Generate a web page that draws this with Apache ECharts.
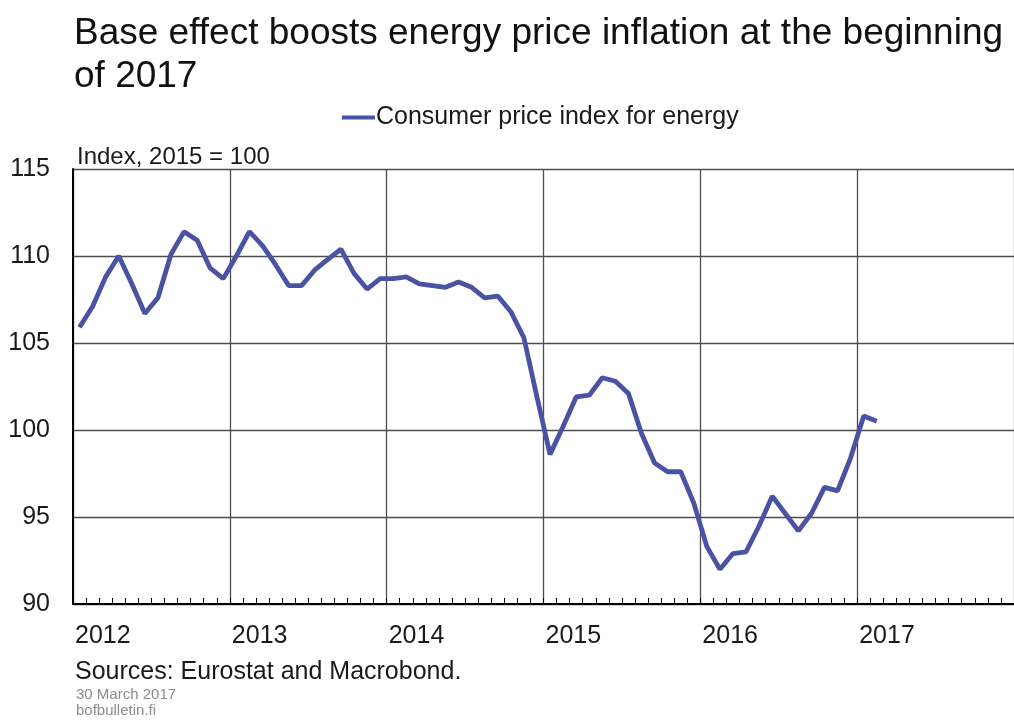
<!DOCTYPE html>
<html>
<head>
<meta charset="utf-8">
<title>Consumer price index for energy</title>
<script src="https://cdn.jsdelivr.net/npm/echarts@6/dist/echarts.min.js"></script>
<style>
    html, body {
        margin: 0;
        padding: 0;
        background: #fff;
    }
    #chart {
        width: 1014px;
        height: 722px;
    }
</style>
</head>
<body>
<div id="chart"></div>
<script>
// x 轴年份标签
const years = ['2012', '2013', '2014', '2015', '2016', '2017'];

// 能源消费价格指数 (2015 = 100)，每年 1 月起的月度值
const cpi2012 = [105.9, 107.1, 108.8, 110.0, 108.4, 106.7, 107.6, 110.1, 111.4, 110.9, 109.3, 108.7];
const cpi2013 = [110.0, 111.4, 110.6, 109.5, 108.3, 108.3, 109.2, 109.8, 110.4, 109.0, 108.1, 108.7];
const cpi2014 = [108.7, 108.8, 108.4, 108.3, 108.2, 108.5, 108.2, 107.6, 107.7, 106.8, 105.3, 101.9];
const cpi2015 = [98.6, 100.2, 101.9, 102.0, 103.0, 102.8, 102.1, 99.8, 98.1, 97.6, 97.6, 95.8];
const cpi2016 = [93.3, 92.0, 92.9, 93.0, 94.5, 96.2, 95.2, 94.2, 95.2, 96.7, 96.5, 98.4];
const cpi2017 = [100.8, 100.5];

// y 轴刻度
const yTicks = [90, 95, 100, 105, 110, 115];

const FONT = '"Liberation Sans", Arial, sans-serif';
const LINE_COLOR = '#4a53a3';
const GRID_COLOR = '#4d4d4d';

// 按月份放在月中
const perYear = [cpi2012, cpi2013, cpi2014, cpi2015, cpi2016, cpi2017];
const seriesData = [];
perYear.forEach((vals, y) => {
    vals.forEach((v, m) => {
        seriesData.push([y * 12 + m + 0.5, v]);
    });
});

const chart = echarts.init(document.getElementById('chart'));

const option = {
    backgroundColor: '#fff',
    animation: false,
    textStyle: { fontFamily: FONT },
    title: {
        text: 'Base effect boosts energy price inflation at the beginning\nof 2017',
        left: 74,
        top: 12,
        padding: 0,
        textStyle: {
            fontFamily: FONT,
            fontSize: 37,
            fontWeight: 'normal',
            lineHeight: 43,
            color: '#111'
        }
    },
    legend: {
        data: ['Consumer price index for energy'],
        left: 342,
        top: 105,
        padding: 0,
        icon: 'rect',
        itemWidth: 33,
        itemHeight: 4,
        textStyle: {
            fontFamily: FONT,
            fontSize: 25,
            color: '#1a1a1a',
            padding: [0, 0, 0, -4]
        }
    },
    grid: {
        left: 73,
        right: -4,
        top: 169,
        bottom: 118,
        containLabel: false
    },
    xAxis: {
        type: 'value',
        min: 0,
        max: years.length * 12,
        interval: 12,
        axisLine: {
            show: true,
            lineStyle: { color: '#000', width: 2 }
        },
        axisTick: {
            show: true,
            inside: true,
            length: 6,
            lineStyle: { color: '#000', width: 1 }
        },
        minorTick: {
            show: true,
            splitNumber: 12,
            length: 6,
            lineStyle: { color: '#000', width: 1 }
        },
        splitLine: {
            show: true,
            lineStyle: { color: GRID_COLOR, width: 1.3 }
        },
        axisLabel: {
            fontFamily: FONT,
            fontSize: 25,
            color: '#1a1a1a',
            align: 'left',
            margin: 20,
            padding: [0, 0, 0, 2],
            showMaxLabel: false,
            formatter: v => years[v / 12] || ''
        }
    },
    yAxis: {
        type: 'value',
        min: yTicks[0],
        max: yTicks[yTicks.length - 1],
        interval: 5,
        axisLine: {
            show: true,
            lineStyle: { color: '#000', width: 2 }
        },
        axisTick: { show: false },
        splitLine: {
            show: true,
            lineStyle: { color: GRID_COLOR, width: 1.3 }
        },
        axisLabel: {
            fontFamily: FONT,
            fontSize: 25,
            color: '#1a1a1a',
            margin: 23
        }
    },
    graphic: [
        {
            type: 'text',
            left: 77,
            top: 145,
            style: {
                text: 'Index, 2015 = 100',
                font: '24px ' + FONT,
                fill: '#1a1a1a'
            }
        },
        {
            type: 'text',
            left: 75,
            top: 660,
            style: {
                text: 'Sources: Eurostat and Macrobond.',
                font: '25px ' + FONT,
                fill: '#1a1a1a'
            }
        },
        {
            type: 'text',
            left: 76,
            top: 687,
            style: {
                text: '30 March 2017',
                font: '15px ' + FONT,
                fill: '#8c8c8c'
            }
        },
        {
            type: 'text',
            left: 76,
            top: 703,
            style: {
                text: 'bofbulletin.fi',
                font: '15px ' + FONT,
                fill: '#8c8c8c'
            }
        }
    ],
    series: [{
        name: 'Consumer price index for energy',
        type: 'line',
        data: seriesData,
        symbol: 'none',
        smooth: false,
        lineStyle: { color: LINE_COLOR, width: 4.8 },
        itemStyle: { color: LINE_COLOR }
    }]
};

chart.setOption(option);
</script>
</body>
</html>
